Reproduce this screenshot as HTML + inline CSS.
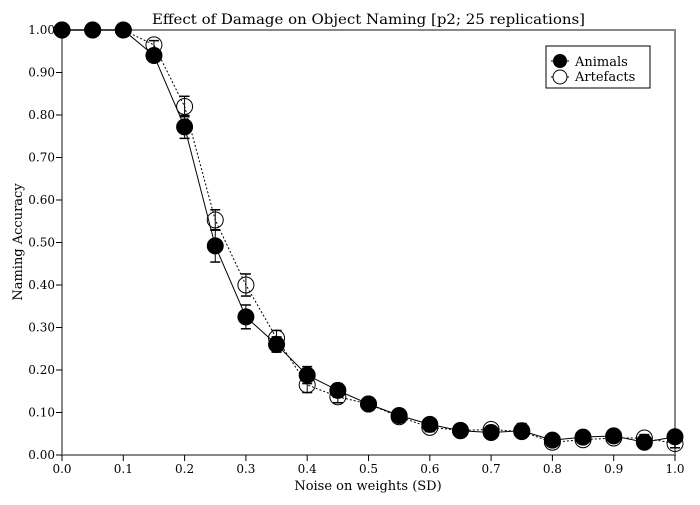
<!DOCTYPE html>
<html><head><meta charset="utf-8"><style>
body{margin:0;background:#fff}
svg text{font-family:"DejaVu Serif","Liberation Serif",serif;fill:#000}
</style></head><body>
<svg id="chart" width="700" height="500" xmlns="http://www.w3.org/2000/svg">
<text x="152" y="24" font-size="14" textLength="433" lengthAdjust="spacingAndGlyphs">Effect of Damage on Object Naming [p2; 25 replications]</text>
<rect x="62" y="30" width="613" height="425" fill="none" stroke="#888" stroke-width="2"/>
<g id="axes"></g>
<g id="series"></g>
<text x="368" y="490" font-size="13" text-anchor="middle">Noise on weights (SD)</text>
<text transform="translate(22,242) rotate(-90)" font-size="13" text-anchor="middle">Naming Accuracy</text>
<g>
<rect x="546" y="46" width="104" height="42" fill="#fff" stroke="#000" stroke-width="1"/>
<line x1="551" y1="61" x2="569" y2="61" stroke="#000"/>
<circle cx="560" cy="61" r="7" fill="#000"/>
<text x="575" y="66" font-size="13">Animals</text>
<line x1="551" y1="77" x2="569" y2="77" stroke="#000" stroke-dasharray="2,2"/>
<circle cx="560" cy="77" r="7" fill="#fff" stroke="#000"/>
<text x="575" y="81" font-size="13">Artefacts</text>
</g>
</svg>
<script>
const xs=[0,0.05,0.1,0.15,0.2,0.25,0.3,0.35,0.4,0.45,0.5,0.55,0.6,0.65,0.7,0.75,0.8,0.85,0.9,0.95,1.0];
const animals=[1,1,1,0.94,0.772,0.492,0.325,0.26,0.188,0.152,0.12,0.093,0.072,0.057,0.053,0.057,0.035,0.042,0.045,0.03,0.043];
const animalsErr=[0,0,0,0.013,0.027,0.038,0.028,0.018,0.02,0.016,0.015,0.013,0.012,0.01,0.01,0.017,0.01,0.01,0.013,0.008,0.01];
const artefacts=[1,1,1,0.965,0.82,0.553,0.4,0.275,0.165,0.137,0.12,0.09,0.065,0.058,0.06,0.055,0.03,0.036,0.04,0.04,0.027];
const artefactsErr=[0,0,0,0.01,0.024,0.024,0.026,0.018,0.018,0.014,0.012,0.01,0.01,0.008,0.008,0.01,0.008,0.008,0.008,0.008,0.01];
const xTicks=[0,0.1,0.2,0.3,0.4,0.5,0.6,0.7,0.8,0.9,1.0];
const yTicks=[0,0.1,0.2,0.3,0.4,0.5,0.6,0.7,0.8,0.9,1.0];
const X=v=>62+v*613, Y=v=>455-v*425;
const NS="http://www.w3.org/2000/svg";
function mk(t,a,p){const e=document.createElementNS(NS,t);for(const k in a)e.setAttribute(k,a[k]);p.appendChild(e);return e;}
const ax=document.getElementById('axes');
xTicks.forEach(t=>{
  const l=mk('line',{x1:X(t),x2:X(t),y1:455,y2:461,stroke:'#000'},ax);
  
  
  const tx=mk('text',{x:X(t),y:473,'font-size':12,'text-anchor':'middle'},ax);tx.textContent=t.toFixed(1);
  
  
});
yTicks.forEach(t=>{
  const l=mk('line',{x1:56,x2:62,y1:Y(t),y2:Y(t),stroke:'#000'},ax);
  
  
  const tx=mk('text',{x:55,y:Y(t)+4,'font-size':12,'text-anchor':'end'},ax);tx.textContent=t.toFixed(2);
  
  
});
const sg=document.getElementById('series');
function draw(vals,errs,filled,name){
  const g=mk('g',{},sg);
  
  
  const pl=mk('polyline',{points:vals.map((v,i)=>X(xs[i])+','+Y(v)).join(' '),fill:'none',stroke:'#000','stroke-width':1},g);
  if(!filled)pl.setAttribute('stroke-dasharray','2,2');
  
  
  vals.forEach((v,i)=>{
    const x=X(xs[i]);
    if(errs[i]>0){
      const y1=Y(v+errs[i]),y2=Y(v-errs[i]);
      mk('line',{x1:x,x2:x,y1:y1,y2:y2,stroke:'#000'},g);
      mk('line',{x1:x-5,x2:x+5,y1:y1,y2:y1,stroke:'#000','stroke-width':1.5},g);
      mk('line',{x1:x-5,x2:x+5,y1:y2,y2:y2,stroke:'#000','stroke-width':1.5},g);
    }
    const c=mk('circle',{cx:x,cy:Y(v),r:8,fill:filled?'#000':'none',stroke:'#000','stroke-width':1},g);
    
    
  });
}
draw(artefacts,artefactsErr,false,'artefacts');
draw(animals,animalsErr,true,'animals');
</script>
</body></html>
